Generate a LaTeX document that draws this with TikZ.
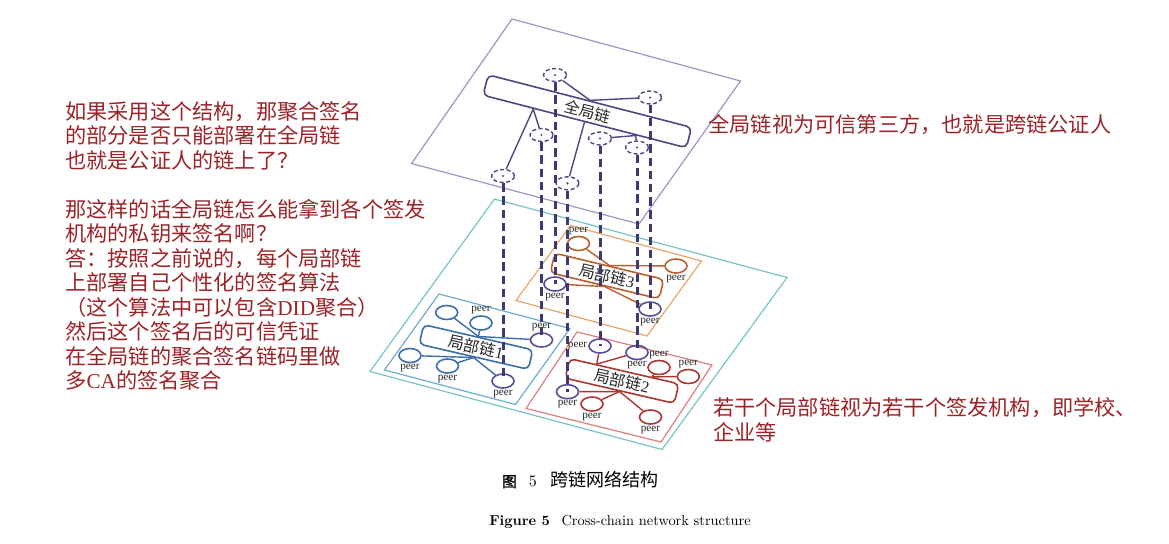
\documentclass[tikz,border=0pt]{standalone}
\usepackage{fontspec}
\usepackage{tikz}
\newfontfamily\cjk{Noto Sans CJK SC}
\newfontfamily\cjkbf[FakeBold=2]{Noto Sans CJK SC}
\newfontfamily\tnr{Liberation Serif}
\usetikzlibrary{shapes.geometric, calc}

\definecolor{topP}{RGB}{155,150,195}
\definecolor{tealP}{RGB}{120,195,195}
\definecolor{gnavy}{RGB}{75,72,130}
\definecolor{vnavy}{RGB}{60,58,115}
\definecolor{pnavy}{RGB}{85,80,150}
\definecolor{c1out}{RGB}{110,170,210}
\definecolor{c1in}{RGB}{60,110,170}
\definecolor{c2out}{RGB}{220,125,130}
\definecolor{c2in}{RGB}{170,55,50}
\definecolor{c3out}{RGB}{230,165,105}
\definecolor{c3in}{RGB}{185,95,45}
\definecolor{noteRed}{RGB}{155,35,40}

\begin{document}
\begin{tikzpicture}[x=0.5pt, y=-0.5pt,
    plane/.style={line width=0.6pt},
    chainbox/.style={draw, rounded corners=2.5pt, line width=0.8pt, minimum width=56pt, minimum height=10pt, inner sep=0pt, text=black!85, font=\cjk\fontsize{8}{8}\selectfont},
    peer/.style={ellipse, draw, line width=0.8pt, minimum width=11pt, minimum height=7pt, inner sep=0pt},
    gpeer/.style={ellipse, draw=gnavy, line width=0.7pt, dash pattern=on 2pt off 1.3pt, minimum width=11.5pt, minimum height=6.5pt, inner sep=0pt},
    plbl/.style={text=black!85, inner sep=0.3pt, font=\tnr\fontsize{5.6}{5.6}\selectfont},
    link/.style={line width=0.7pt},
    vlink/.style={vnavy, line width=1.5pt, dash pattern=on 4.2pt off 2.4pt},
    note/.style={text=noteRed, inner sep=0pt, align=left, font=\cjk\fontsize{10.6}{12.25}\selectfont}]
    \useasboundingbox (0,0) rectangle (1169,543);

    % planes
    \draw[plane, topP] (512,19) -- (740.5,81) -- (639,224) -- (411.5,163.5) -- cycle;
    \draw[plane, tealP] (494.5,199) -- (787,277.5) -- (662,449.5) -- (370,371.5) -- cycle;
    \draw[plane, c1out] (439,294) -- (570,328.5) -- (515.5,404.5) -- (384.5,370) -- cycle;
    \draw[plane, c2out] (577,332) -- (712,365) -- (661,442) -- (526,408.5) -- cycle;
    \draw[plane, c3out] (570.5,225.5) -- (701.5,261) -- (647,336) -- (516,300.5) -- cycle;

    % global chain
    \node[chainbox, draw=gnavy, minimum width=105pt, minimum height=10.5pt, rotate=-14.5, font=\cjk\fontsize{7.8}{7.8}\selectfont] (g) at (587.3,111.3) {全局链};
    \node[gpeer] (e1) at (555,75) {};
    \node[gpeer] (e2) at (650,97.5) {};
    \node[gpeer] (e3) at (541.5,135) {};
    \node[gpeer] (e4) at (600,138.5) {};
    \node[gpeer] (e5) at (637,147.5) {};
    \node[gpeer] (e6) at (503,176) {};
    \node[gpeer] (e7) at (567.5,183.3) {};
    \foreach \i in {1,...,7} \fill[gnavy] (e\i) circle (0.6pt);
    \coordinate (gs1) at ($(g.south west)!0.25!(g.south east)$);
    \coordinate (gs3) at ($(g.south west)!0.75!(g.south east)$);
    \draw[link, gnavy] (e1) -- (g.north) -- (e2);
    \draw[link, gnavy] (e3) -- (gs1) -- (e6);
    \draw[link, gnavy] (g.south) -- (e7);
    \draw[link, gnavy] (e4) -- (gs3) -- (e5);

    % local chain 1
    \node[chainbox, draw=c1in, rotate=-13] (c1) at (476,347) {局部链{\tnr 1}};
    \node[peer, draw=c1in] (p1a) at (446.7,312.5) {};
    \node[peer, draw=c1in, label={[plbl]above:peer}] (p1b) at (481,323) {};
    \node[peer, draw=pnavy, label={[plbl]above:peer}] (p1c) at (541.5,340) {};
    \node[peer, draw=c1in, label={[plbl]below:peer}] (p1d) at (410,355.5) {};
    \node[peer, draw=c1in, label={[plbl]below:peer}] (p1e) at (447.5,366) {};
    \node[peer, draw=pnavy, label={[plbl]below:peer}] (p1f) at (503,381) {};
    \draw[link, c1in] (p1a) -- (c1.north) -- (p1c);
    \draw[link, c1in] (p1b) -- (c1.north);
    \draw[link, c1in] (p1d) -- (c1.south) -- (p1f);
    \draw[link, c1in] (p1e) -- (c1.south);

    % local chain 2
    \node[chainbox, draw=c2in, rotate=-13] (c2) at (622,381) {局部链{\tnr 2}};
    \node[peer, draw=pnavy, label={[plbl]left:peer}] (p2a) at (600,346) {};
    \node[peer, draw=pnavy, label={[plbl]below:peer}] (p2b) at (637,352.5) {};
    \node[peer, draw=c2in, label={[plbl]above:peer}] (p2c) at (659,367.5) {};
    \node[peer, draw=c2in, label={[plbl]above:peer}] (p2d) at (688.3,376.5) {};
    \node[peer, draw=pnavy, label={[plbl]below:peer}] (p2e) at (567.5,391.7) {};
    \node[peer, draw=c2in, label={[plbl]below:peer}] (p2f) at (592,404) {};
    \node[peer, draw=c2in, label={[plbl]below:peer}] (p2g) at (650.5,417) {};
    \coordinate (c2t1) at ($(c2.north west)!0.25!(c2.north east)$);
    \coordinate (c2t3) at ($(c2.north west)!0.75!(c2.north east)$);
    \draw[link, c2in] (p2a) -- (c2t1) -- (p2b);
    \draw[link, c2in] (p2c) -- (c2t3) -- (p2d);
    \draw[link, c2in] (p2e) -- (c2.south) -- (p2g);
    \draw[link, c2in] (p2f) -- (c2.south);

    % local chain 3
    \node[chainbox, draw=c3in, rotate=-13.5] (c3) at (607,276) {局部链{\tnr 3}};
    \node[peer, draw=c3in, label={[plbl]above:peer}] (p3a) at (578.5,243.5) {};
    \node[peer, draw=c3in, label={[plbl]below:peer}] (p3b) at (676,266) {};
    \node[peer, draw=pnavy, label={[plbl]below:peer}] (p3c) at (555,284) {};
    \node[peer, draw=pnavy, label={[plbl]below:peer}] (p3d) at (650,309) {};
    \draw[link, c3in] (p3a) -- (c3.north) -- (p3b);
    \draw[link, c3in] (p3c) -- (c3.south) -- (p3d);

    % cross-chain links
    \draw[vlink] (e6) -- (p1f.center);
    \draw[vlink] (e3) -- (p1c.center);
    \draw[vlink] (e1) -- (p3c.center);
    \draw[vlink] (e7) -- (p2e.center);
    \draw[vlink] (e4) -- (p2a.center);
    \draw[vlink] (e5) -- (p2b.center);
    \draw[vlink] (e2) -- (p3d.center);

    % notes
    \node[note, anchor=north west] (qnote) at (65,101) {如果采用这个结构，那聚合签名\\
        的部分是否只能部署在全局链\\
        也就是公证人的链上了？\\[12.25pt]
        那这样的话全局链怎么能拿到各个签发\\
        机构的私钥来签名啊？\\
        答：按照之前说的，每个局部链\\
        上部署自己个性化的签名算法\\
        （这个算法中可以包含{\tnr DID}聚合）\\
        然后这个签名后的可信凭证\\
        在全局链的聚合签名链码里做\\
        多{\tnr CA}的签名聚合};
    \node[note, anchor=north west] (gnote) at (708,113.8) {全局链视为可信第三方，也就是跨链公证人};
    \node[note, anchor=north west] (lnote) at (712.7,397.2) {若干个局部链视为若干个签发机构，即学校、\\企业等};

    % caption
    \node[inner sep=0pt, font=\fontsize{9}{9}\selectfont] (capcn) at (580.5,480) {{\cjkbf\fontsize{7.4}{7.4}\selectfont 图}\hspace{6pt}\scalebox{0.8}{\fontsize{10}{10}\selectfont 5}\hspace{7pt}{\cjk 跨链网络结构}};
    \node[inner sep=0pt] (capen) at (620,521.7) {\scalebox{0.72}{\fontsize{10}{12}\selectfont{\bfseries Figure 5}\hspace{0.8em}Cross-chain network structure}};
\end{tikzpicture}
\end{document}
